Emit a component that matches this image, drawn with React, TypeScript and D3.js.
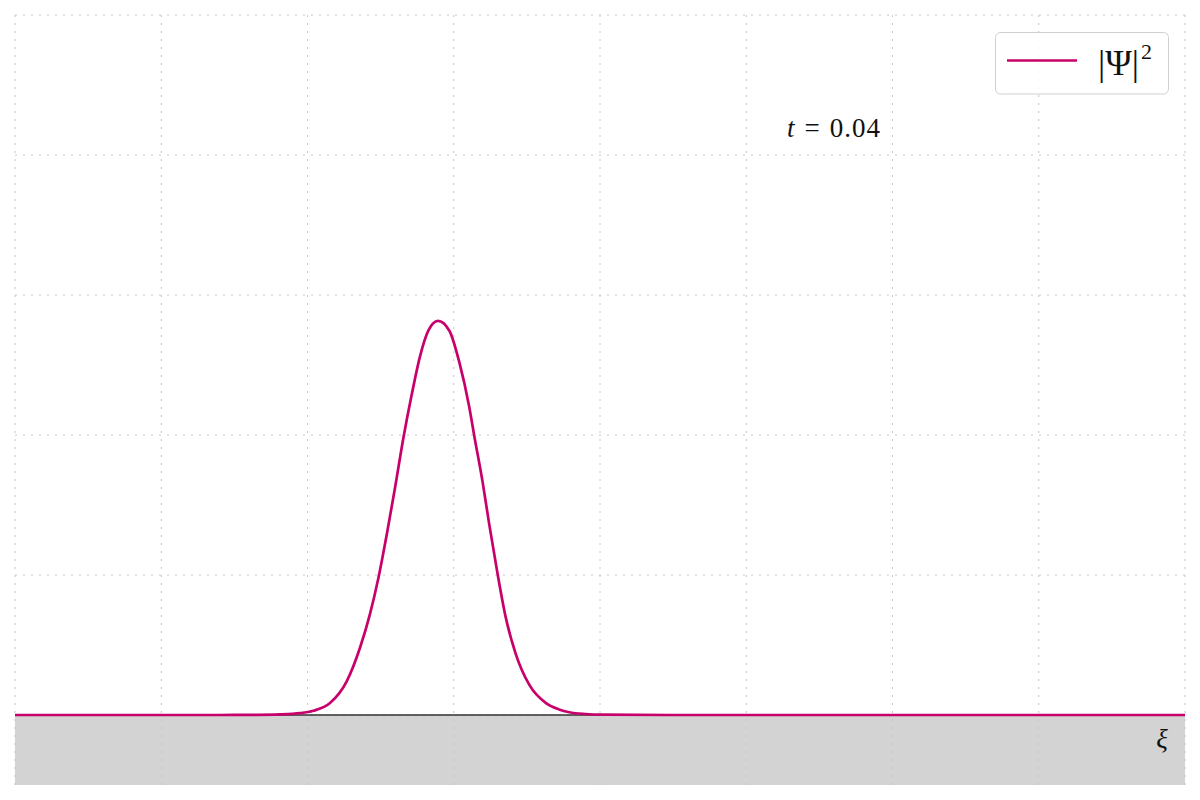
import { useEffect, useRef } from "react";
import * as d3 from "d3";

// |Psi|^2, xi on [-4, 4]
const xiValues = [
  -4, -3, -2.6, -2.35, -2.19, -2.05, -1.96, -1.846, -1.732, -1.641, -1.573,
  -1.516, -1.458, -1.402, -1.345, -1.288, -1.231, -1.174, -1.108, -1.03,
  -0.962, -0.894, -0.859, -0.802, -0.757, -0.699, -0.643, -0.574, -0.483,
  -0.369, -0.28, -0.21, -0.1, 0.02, 0.5, 1.5, 2.5, 3.5, 4,
];
const psi2Values = [
  0, 0, 0, 0.001, 0.004, 0.013, 0.03, 0.085, 0.24, 0.48, 0.72, 0.975, 1.29,
  1.62, 1.975, 2.285, 2.56, 2.745, 2.815, 2.745, 2.52, 2.2, 1.99, 1.66, 1.36,
  1.0, 0.69, 0.43, 0.215, 0.085, 0.04, 0.02, 0.007, 0.002, 0, 0, 0, 0, 0,
];
const xTicks = [-4, -3, -2, -1, 0, 1, 2, 3, 4];
const yTicks = [0, 1, 2, 3, 4, 5];
const timeLabel = "0.04";

const W = 1200, H = 800;
const m = { l: 15, r: 15, t: 15, b: 15 };
const lineColor = "#c8006c";

export default function App() {
  const ref = useRef<SVGSVGElement | null>(null);

  useEffect(() => {
    document.body.style.margin = "0";
    const svg = d3.select(ref.current);
    svg.selectAll("*").remove();

    const x = d3.scaleLinear().domain([-4, 4]).range([m.l, W - m.r]);
    const y = d3.scaleLinear().domain([-0.5, 5]).range([H - m.b, m.t]);

    svg.append("rect")
      .attr("x", 0).attr("y", 0)
      .attr("width", W).attr("height", H)
      .attr("fill", "white");

    // the region below zero
    svg.append("rect")
      .attr("x", x(-4)).attr("y", y(0))
      .attr("width", x(4) - x(-4)).attr("height", y(-0.5) - y(0))
      .attr("fill", "#d3d3d3");

    const grid = svg.append("g")
      .attr("stroke", "#c8c8c8")
      .attr("stroke-width", 1)
      .attr("stroke-dasharray", "2 6");
    grid.selectAll("line.gx")
      .data(xTicks)
      .enter()
      .append("line")
      .attr("x1", d => x(d)).attr("x2", d => x(d))
      .attr("y1", y(5)).attr("y2", y(-0.5));
    grid.selectAll("line.gy")
      .data(yTicks)
      .enter()
      .append("line")
      .attr("x1", x(-4)).attr("x2", x(4))
      .attr("y1", d => y(d)).attr("y2", d => y(d));

    svg.append("line")
      .attr("x1", x(-4)).attr("x2", x(4))
      .attr("y1", y(0)).attr("y2", y(0))
      .attr("stroke", "#333")
      .attr("stroke-width", 1.5);

    const pts = xiValues.map((v, i) => [v, psi2Values[i]] as [number, number]);
    const line = d3.line<[number, number]>()
      .x(d => x(d[0]))
      .y(d => y(d[1]))
      .curve(d3.curveMonotoneX);

    svg.append("path")
      .datum(pts)
      .attr("d", line)
      .attr("fill", "none")
      .attr("stroke", lineColor)
      .attr("stroke-width", 2.7)
      .attr("stroke-linejoin", "round");

    const serif = "'Liberation Serif', 'DejaVu Serif', serif";

    // time label
    const tl = svg.append("text")
      .attr("x", 881).attr("y", 137)
      .attr("text-anchor", "end")
      .attr("font-family", serif)
      .attr("font-size", 27)
      .attr("fill", "#111");
    tl.append("tspan").attr("font-style", "italic").text("t");
    tl.append("tspan").attr("dx", 10).text("=");
    tl.append("tspan").attr("dx", 10).attr("letter-spacing", 1).text(timeLabel);

    // xi label
    svg.append("text")
      .attr("x", 1162).attr("y", 748)
      .attr("text-anchor", "middle")
      .attr("font-family", serif)
      .attr("font-style", "italic")
      .attr("font-size", 27)
      .attr("fill", "#111")
      .text("ξ");

    // legend
    const lg = svg.append("g");
    lg.append("rect")
      .attr("x", 995.5).attr("y", 32.5)
      .attr("width", 173).attr("height", 61.5)
      .attr("rx", 5)
      .attr("fill", "white")
      .attr("fill-opacity", 0.85)
      .attr("stroke", "#d0d0d0")
      .attr("stroke-width", 1);
    lg.append("line")
      .attr("x1", 1007).attr("x2", 1077)
      .attr("y1", 60.5).attr("y2", 60.5)
      .attr("stroke", lineColor)
      .attr("stroke-width", 2.7);
    const lt = lg.append("text")
      .attr("x", 1098).attr("y", 75)
      .attr("font-family", serif)
      .attr("font-size", 36)
      .attr("fill", "#111");
    lt.append("tspan").text("|Ψ|");
    lt.append("tspan").attr("font-size", 22).attr("dy", -16).attr("dx", 2).text("2");
  }, []);

  return <svg ref={ref} width={W} height={H} style={{ display: "block" }} />;
}
